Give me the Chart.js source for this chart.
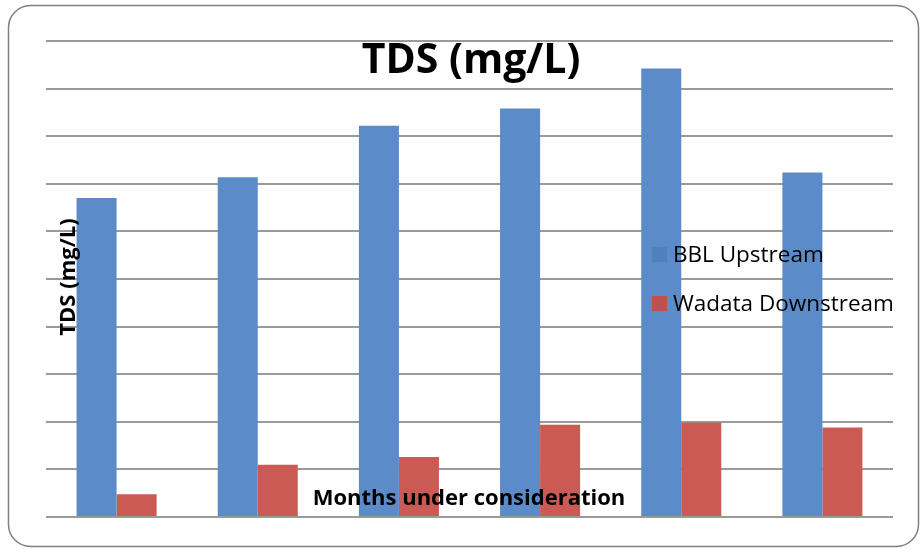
<!DOCTYPE html>
<html>
<head>
<meta charset="utf-8">
<script src="https://cdn.jsdelivr.net/npm/chart.js@4/dist/chart.umd.min.js"></script>
<style>
  html, body { margin: 0; padding: 0; background: #ffffff; }
  #wrap { position: relative; width: 921px; height: 549px; }
</style>
</head>
<body>
<div id="wrap"><canvas id="c" width="921" height="549"></canvas></div>
<script>
// Monthly TDS readings at the two sampling points
const months = ['Month 1', 'Month 2', 'Month 3', 'Month 4', 'Month 5', 'Month 6'];
const bblUpstream = [335, 357, 411, 429, 471, 362];
const wadataDownstream = [24, 55, 63, 97, 99, 94];
const yMax = 500;
const yStep = 50;

const seriesNames = ['BBL Upstream', 'Wadata Downstream'];
const barColors = ['#5b8bc8', '#cb5a55'];
const keyColors = ['#4f81bd', '#c0504d'];

// Frame, titles and key are painted on the canvas around/over the plot
const decor = {
  id: 'decor',
  beforeDraw(chart) {
    const ctx = chart.ctx;
    ctx.save();
    ctx.fillStyle = '#ffffff';
    ctx.fillRect(0, 0, chart.width, chart.height);
    ctx.beginPath();
    ctx.roundRect(8.5, 5.5, 910, 541, 22);
    ctx.lineWidth = 1.5;
    ctx.strokeStyle = '#7f7f7f';
    ctx.stroke();
    ctx.restore();
  },
  afterDatasetsDraw(chart) {
    const ctx = chart.ctx;
    ctx.save();
    ctx.fillStyle = '#000000';
    // chart title
    ctx.font = 'bold 41px "Open Sans"';
    ctx.textAlign = 'center';
    ctx.textBaseline = 'alphabetic';
    ctx.fillText('TDS (mg/L)', 471, 73);
    // x axis title
    ctx.font = 'bold 22px "Open Sans"';
    ctx.fillText('Months under consideration', 469, 505);
    // y axis title
    ctx.save();
    ctx.translate(75, 277);
    ctx.rotate(-Math.PI / 2);
    ctx.font = 'bold 22px "Open Sans"';
    ctx.fillText('TDS (mg/L)', 0, 0);
    ctx.restore();
    // key
    ctx.textAlign = 'left';
    ctx.textBaseline = 'middle';
    ctx.font = '22.5px "Open Sans"';
    chart.data.datasets.forEach((ds, i) => {
      const cy = 254.5 + i * 49;
      ctx.fillStyle = ds.keyColor;
      ctx.fillRect(652, cy - 7.5, 15, 15);
      ctx.fillStyle = '#000000';
      ctx.fillText(ds.label, 673, cy + 1);
    });
    ctx.restore();
  }
};

new Chart(document.getElementById('c'), {
  type: 'bar',
  data: {
    labels: months,
    datasets: [
      { label: seriesNames[0], data: bblUpstream, backgroundColor: barColors[0], keyColor: keyColors[0] },
      { label: seriesNames[1], data: wadataDownstream, backgroundColor: barColors[1], keyColor: keyColors[1] }
    ]
  },
  options: {
    responsive: false,
    animation: false,
    layout: { padding: { left: 46, right: 28, top: 41, bottom: 32 } },
    datasets: { bar: { categoryPercentage: 0.567, barPercentage: 1.0, borderWidth: 0 } },
    plugins: {
      legend: { display: false },
      title: { display: false },
      tooltip: { enabled: false }
    },
    scales: {
      x: {
        display: false
      },
      y: {
        min: 0,
        max: yMax,
        ticks: { display: false, stepSize: yStep },
        border: { display: false },
        grid: { color: '#9a9a9a', lineWidth: 2, drawTicks: false }
      }
    }
  },
  plugins: [decor]
});
</script>
</body>
</html>
